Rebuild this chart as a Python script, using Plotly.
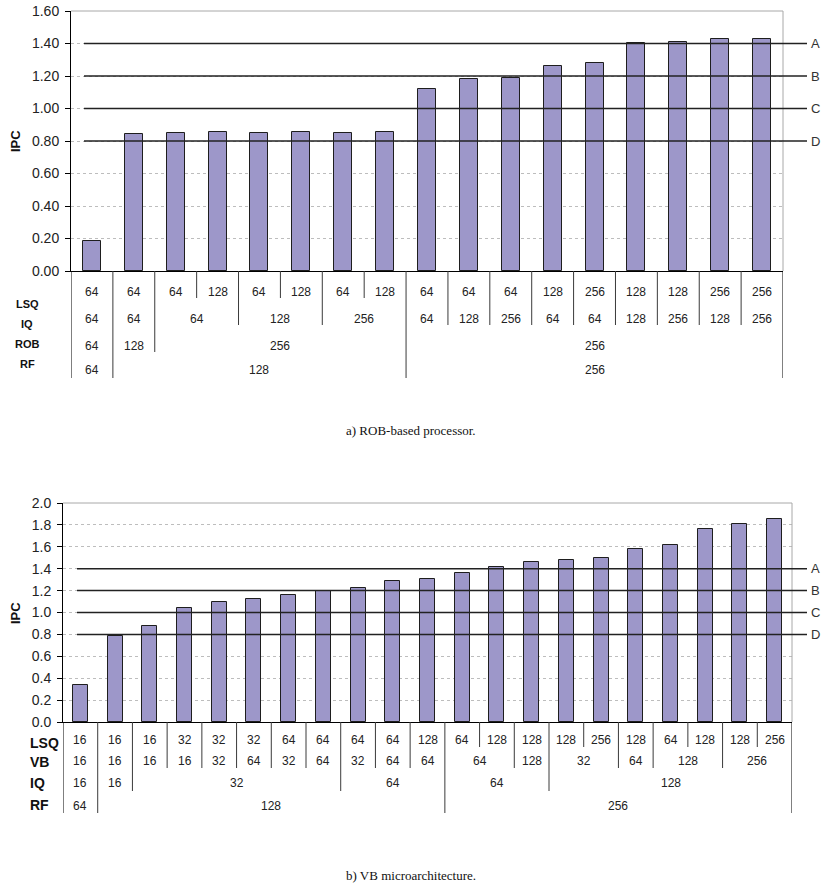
import plotly.graph_objects as go

# ---------------- data ----------------
# a) ROB-based processor
rob_ipc = [0.185, 0.845, 0.851, 0.855, 0.851, 0.855, 0.851, 0.855,
           1.118, 1.180, 1.188, 1.262, 1.280, 1.405, 1.409, 1.426, 1.426]
rob_row_names = ["LSQ", "IQ", "ROB", "RF"]
rob_lsq = [("64", 1), ("64", 1), ("64", 1), ("128", 1), ("64", 1), ("128", 1),
           ("64", 1), ("128", 1), ("64", 1), ("64", 1), ("64", 1), ("128", 1),
           ("256", 1), ("128", 1), ("128", 1), ("256", 1), ("256", 1)]
rob_iq = [("64", 1), ("64", 1), ("64", 2), ("128", 2), ("256", 2),
          ("64", 1), ("128", 1), ("256", 1), ("64", 1), ("64", 1),
          ("128", 1), ("256", 1), ("128", 1), ("256", 1)]
rob_rob = [("64", 1), ("128", 1), ("256", 6), ("256", 9)]
rob_rf = [("64", 1), ("128", 7), ("256", 9)]

# b) VB microarchitecture
vb_ipc = [0.338, 0.788, 0.877, 1.038, 1.096, 1.120, 1.163, 1.199, 1.226, 1.285,
          1.309, 1.358, 1.416, 1.464, 1.479, 1.495, 1.583, 1.619, 1.763, 1.811, 1.854]
vb_row_names = ["LSQ", "VB", "IQ", "RF"]
vb_lsq = [("16", 1), ("16", 1), ("16", 1), ("32", 1), ("32", 1), ("32", 1),
          ("64", 1), ("64", 1), ("64", 1), ("64", 1), ("128", 1), ("64", 1),
          ("128", 1), ("128", 1), ("128", 1), ("256", 1), ("128", 1), ("64", 1),
          ("128", 1), ("128", 1), ("256", 1)]
vb_vb = [("16", 1), ("16", 1), ("16", 1), ("16", 1), ("32", 1), ("64", 1),
         ("32", 1), ("64", 1), ("32", 1), ("64", 1), ("64", 1), ("64", 2),
         ("128", 1), ("32", 2), ("64", 1), ("128", 2), ("256", 2)]
vb_iq = [("16", 1), ("16", 1), ("32", 6), ("64", 3), ("64", 3), ("128", 7)]
vb_rf = [("64", 1), ("128", 10), ("256", 10)]

ref_names = ["A", "B", "C", "D"]
ref_values = [1.4, 1.2, 1.0, 0.8]

# ---------------- layout helpers ----------------
W, H = 822, 887
BAR_FILL = "#9d97c9"
FONT = "Liberation Sans, Arial, sans-serif"


def px(x):
    return x / W


def py(y):
    return 1 - y / H


fig = go.Figure()
shapes = []
annotations = []


def add_panel(idx, values, rows, row_names, xpx, ypx, ymax, tickfmt,
              text_y, row_bottom, label_y, label_x, label_anchor, label_size,
              ref_x0, ref_x1, ipc_y):
    xa = "x" if idx == 1 else f"x{idx}"
    ya = "y" if idx == 1 else f"y{idx}"
    n = len(values)
    fig.add_trace(go.Bar(
        x=list(range(n)), y=values, xaxis=xa, yaxis=ya, width=0.43,
        marker=dict(color=BAR_FILL, line=dict(color="#1e1e1e", width=1)),
        showlegend=False, hoverinfo="y"))

    xkey = "xaxis" if idx == 1 else f"xaxis{idx}"
    ykey = "yaxis" if idx == 1 else f"yaxis{idx}"
    fig.update_layout(**{
        xkey: dict(domain=[px(xpx[0]), px(xpx[1])], anchor=ya,
                   range=[-0.5, n - 0.5], showticklabels=False, ticks="",
                   showgrid=False, zeroline=False, showline=True,
                   linecolor="#000", linewidth=1, fixedrange=True,
                   automargin=False),
        ykey: dict(domain=[py(ypx[1]), py(ypx[0])], anchor=xa,
                   range=[0, ymax], dtick=0.2, tickformat=tickfmt,
                   showgrid=True, gridcolor="#bdbdbd", griddash="dot",
                   gridwidth=1, zeroline=False, showline=True,
                   linecolor="#000", linewidth=1, ticks="outside",
                   ticklen=5, tickcolor="#000", ticklabelstandoff=3,
                   tickfont=dict(family=FONT, size=14, color="#222"),
                   fixedrange=True, automargin=False),
    })

    # grey top and right frame of the plot area
    shapes.append(dict(type="line", xref="paper", yref="paper",
                       x0=px(xpx[0]), x1=px(xpx[1]), y0=py(ypx[0]), y1=py(ypx[0]),
                       line=dict(color="#a8a8a8", width=1)))
    shapes.append(dict(type="line", xref="paper", yref="paper",
                       x0=px(xpx[1]), x1=px(xpx[1]), y0=py(ypx[0]), y1=py(ypx[1]),
                       line=dict(color="#a8a8a8", width=1)))

    # reference IPC levels
    for name, v in zip(ref_names, ref_values):
        shapes.append(dict(type="line", xref="paper", yref=ya,
                           x0=px(ref_x0), x1=px(ref_x1), y0=v, y1=v,
                           line=dict(color="#222", width=1.5)))
        annotations.append(dict(xref="paper", yref=ya, x=px(ref_x1 + 2), y=v,
                                text=name, showarrow=False, xanchor="left",
                                yanchor="middle",
                                font=dict(family=FONT, size=13, color="#333")))

    # y-axis title
    annotations.append(dict(xref="paper", yref="paper", x=px(15), y=py(ipc_y),
                            text="<b>IPC</b>", textangle=-90, showarrow=False,
                            xanchor="center", yanchor="middle",
                            font=dict(family=FONT, size=13, color="#111")))

    # configuration table under the bars
    edges = []
    for r, row in enumerate(rows):
        pos = 0
        e = {0}
        for label, count in row:
            annotations.append(dict(xref=xa, yref="paper",
                                    x=pos + (count - 1) / 2, y=py(text_y[r]),
                                    text=label, showarrow=False,
                                    xanchor="center", yanchor="middle",
                                    font=dict(family=FONT, size=12, color="#222")))
            pos += count
            e.add(pos)
        edges.append(e)
        annotations.append(dict(xref="paper", yref="paper", x=px(label_x),
                                y=py(label_y[r]), text=f"<b>{row_names[r]}</b>",
                                showarrow=False, xanchor=label_anchor,
                                yanchor="middle",
                                font=dict(family=FONT, size=label_size, color="#111")))
    for b in range(n + 1):
        depth = -1
        for r in range(len(rows)):
            if b in edges[r]:
                depth = r
            else:
                break
        if depth >= 0:
            col = "#000" if b in (0, n) else "#3a3a3a"
            shapes.append(dict(type="line", xref=xa, yref="paper",
                               x0=b - 0.5, x1=b - 0.5,
                               y0=py(ypx[1]), y1=py(row_bottom[depth]),
                               line=dict(color=col, width=1)))


add_panel(1, rob_ipc, [rob_lsq, rob_iq, rob_rob, rob_rf], rob_row_names,
          xpx=(71, 783), ypx=(11, 271), ymax=1.6, tickfmt=".2f",
          text_y=[292, 319, 346, 370], row_bottom=[298, 325, 352, 378],
          label_y=[304, 324, 344, 364], label_x=27, label_anchor="center",
          label_size=11, ref_x0=84, ref_x1=807, ipc_y=141)

add_panel(2, vb_ipc, [vb_lsq, vb_vb, vb_iq, vb_rf], vb_row_names,
          xpx=(63, 792), ypx=(503, 722), ymax=2.0, tickfmt=".1f",
          text_y=[740, 761, 783, 806], row_bottom=[747, 768, 791, 813],
          label_y=[743, 762, 783, 805], label_x=28, label_anchor="left",
          label_size=14, ref_x0=77, ref_x1=807, ipc_y=613)

# panel captions
for cap, y in [("a) ROB-based processor.", 431), ("b) VB microarchitecture.", 875)]:
    annotations.append(dict(xref="paper", yref="paper", x=px(411), y=py(y),
                            text=cap, showarrow=False, xanchor="center",
                            yanchor="middle",
                            font=dict(family="Liberation Serif, Times New Roman, serif",
                                      size=13, color="#111")))

fig.update_layout(template="none", width=W, height=H,
                  margin=dict(l=0, r=0, t=0, b=0, autoexpand=False),
                  paper_bgcolor="white", plot_bgcolor="white",
                  shapes=shapes, annotations=annotations, bargap=0,
                  showlegend=False)

fig.write_html("out.html", config={"displayModeBar": False})
